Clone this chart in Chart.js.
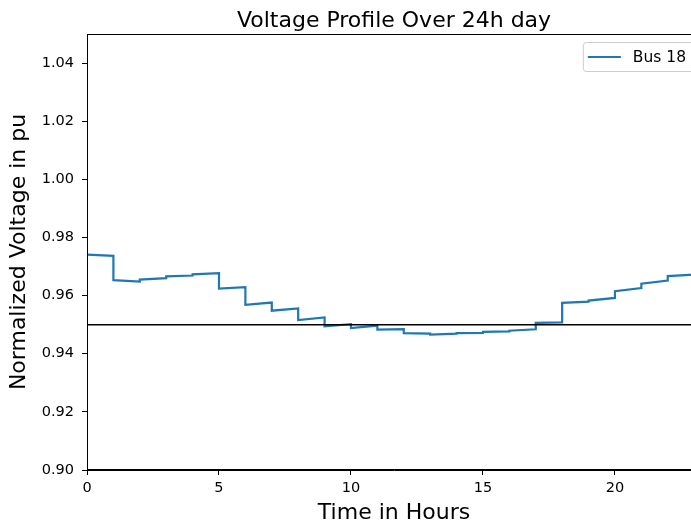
<!DOCTYPE html>
<html>
<head>
<meta charset="utf-8">
<script src="https://cdn.jsdelivr.net/npm/chart.js@4.4.0/dist/chart.umd.min.js"></script>
<style>
  html, body { margin: 0; padding: 0; background: #fff; overflow: hidden; }
  #wrap { width: 720px; height: 527px; }
</style>
</head>
<body>
<div id="wrap"><canvas id="voltChart" width="720" height="527"></canvas></div>
<script>
// --- Bus 18 voltage, one segment per hour (value at start and end of the hour) ---
const hours = [0, 1, 2, 3, 4, 5, 6, 7, 8, 9, 10, 11, 12, 13, 14, 15, 16, 17, 18, 19, 20, 21, 22];
const hourStart = [0.9741, 0.9653, 0.9655, 0.9666, 0.9673, 0.9624, 0.9568, 0.9548, 0.9516, 0.9494, 0.9488, 0.9483,
                   0.9471, 0.9466, 0.9471, 0.9475, 0.9479, 0.9506, 0.9575, 0.9583, 0.9615, 0.9641, 0.9667];
const hourEnd   = [0.9737, 0.9648, 0.9660, 0.9669, 0.9677, 0.9629, 0.9576, 0.9556, 0.9525, 0.9502, 0.9497, 0.9485,
                   0.9469, 0.9469, 0.9472, 0.9477, 0.9484, 0.9508, 0.9579, 0.9592, 0.9626, 0.9652, 0.9672];

// lower voltage limit
const limitValue = 0.95;

// axes
const xMin = 0, xMax = 23.26;
const yMin = 0.90, yMax = 1.05;
const xTicks = [0, 5, 10, 15, 20];
const yTicks = [0.90, 0.92, 0.94, 0.96, 0.98, 1.00, 1.02, 1.04];

const FONT = "'DejaVu Sans', sans-serif";
const titleText = 'Voltage Profile Over 24h day';

// build step points: start and end of every hour
let busPoints = [];
hours.forEach((h, i) => {
  busPoints.push({x: h, y: hourStart[i]});
  busPoints.push({x: h + 1, y: hourEnd[i]});
});

// title centred over the plot, frame on all four sides, legend box top right
const framePlugin = {
  id: 'frame',
  afterDraw(chart) {
    const {ctx, chartArea: a} = chart;
    ctx.save();
    ctx.fillStyle = '#000';
    ctx.font = "22px " + FONT;
    ctx.textAlign = 'center';
    ctx.textBaseline = 'alphabetic';
    ctx.fillText(titleText, (a.left + a.right) / 2, 27);

    ctx.strokeStyle = '#000';
    ctx.lineWidth = 1;
    ctx.strokeRect(a.left + 0.5, a.top + 0.5, a.right - a.left - 1, a.bottom - a.top - 1);

    // legend
    const ds = chart.data.datasets[1];
    ctx.font = "15.5px " + FONT;
    ctx.textAlign = 'left';
    const tw = ctx.measureText(ds.label).width;
    const w = 6 + 33 + 12 + tw + 7, h = 29;
    const x = a.right - 7 - w, y = a.top + 8;
    ctx.beginPath();
    ctx.roundRect(x + 0.5, y + 0.5, w, h, 3);
    ctx.fillStyle = 'rgba(255,255,255,0.8)';
    ctx.fill();
    ctx.strokeStyle = '#cccccc';
    ctx.stroke();
    ctx.beginPath();
    ctx.moveTo(x + 5, y + h / 2 + 0.5);
    ctx.lineTo(x + 38, y + h / 2 + 0.5);
    ctx.strokeStyle = ds.borderColor;
    ctx.lineWidth = 2.2;
    ctx.stroke();
    ctx.fillStyle = '#000';
    ctx.textBaseline = 'middle';
    ctx.fillText(ds.label, x + 50, y + h / 2 + 1);
    ctx.restore();
  }
};

let chart = new Chart(document.getElementById('voltChart'), {
  type: 'scatter',
  data: {
    datasets: [{
      label: 'limit',
      data: [{x: xMin, y: limitValue}, {x: xMax, y: limitValue}],
      showLine: true,
      borderColor: '#000',
      borderWidth: 1.5,
      pointRadius: 0,
      order: 0
    }, {
      label: 'Bus 18',
      data: busPoints,
      showLine: true,
      borderColor: '#1f77b4',
      borderWidth: 2.2,
      pointRadius: 0,
      tension: 0,
      order: 1
    }]
  },
  options: {
    responsive: false,
    animation: false,
    devicePixelRatio: 1,
    layout: { padding: { left: 0, right: 19, top: 34, bottom: 0 } },
    plugins: {
      legend: { display: false },
      tooltip: { enabled: false },
      title: { display: false }
    },
    scales: {
      x: {
        type: 'linear',
        min: xMin,
        max: xMax,
        afterBuildTicks: s => { s.ticks = xTicks.map(v => ({value: v})); },
        afterFit: s => { s.height = 57; },
        border: { display: true, color: '#000', width: 1 },
        grid: { drawOnChartArea: false, drawTicks: true, tickLength: 5, tickColor: '#000' },
        ticks: { color: '#000', padding: 5, maxRotation: 0, font: { family: FONT, size: 14.5 } },
        title: {
          display: true,
          text: 'Time in Hours',
          color: '#000',
          font: { family: FONT, size: 22, lineHeight: 1.2 },
          padding: { top: 0, bottom: 1 }
        }
      },
      y: {
        type: 'linear',
        min: yMin,
        max: yMax,
        afterBuildTicks: s => { s.ticks = yTicks.map(v => ({value: v})); },
        afterFit: s => { s.width = 87; },
        border: { display: true, color: '#000', width: 1 },
        grid: { drawOnChartArea: false, drawTicks: true, tickLength: 5, tickColor: '#000' },
        ticks: {
          color: '#000',
          padding: 8,
          font: { family: FONT, size: 14.5 },
          callback: v => v.toFixed(2)
        },
        title: {
          display: true,
          text: 'Normalized Voltage in pu',
          color: '#000',
          font: { family: FONT, size: 22, lineHeight: 1.2 },
          padding: { top: 6, bottom: 0 }
        }
      }
    }
  },
  plugins: [framePlugin]
});
</script>
</body>
</html>
